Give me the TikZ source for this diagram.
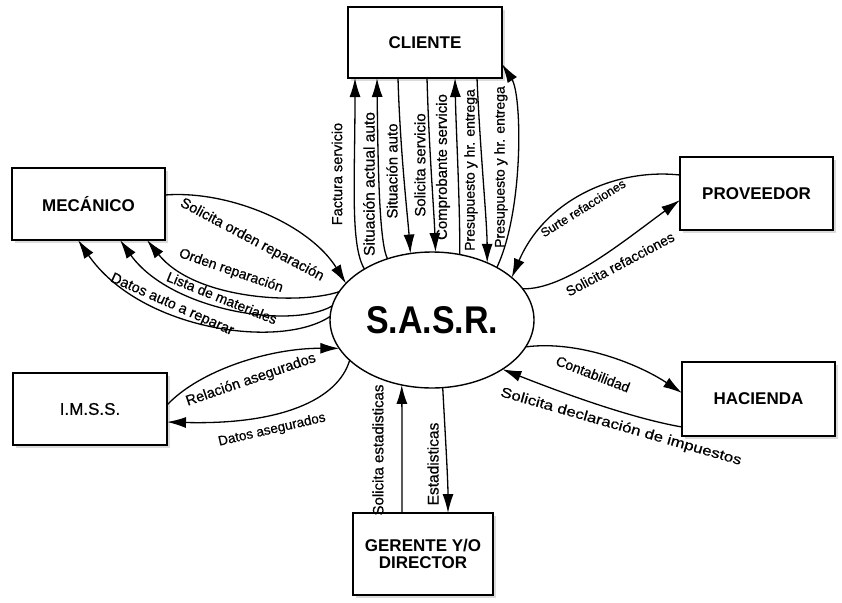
\documentclass[tikz,border=0pt]{standalone}
\usepackage{fontspec}
\setmainfont{Liberation Sans}
\newfontfamily\labfont[FakeBold=0.6]{Liberation Sans}
\usepackage{graphicx}
\usetikzlibrary{arrows.meta,shapes.geometric,shadows}
\newcommand\lb[2]{\resizebox{#1pt}{\height}{#2}}
\newcommand\fs[1]{\fontsize{#1}{#1}\selectfont}
\begin{document}
\begin{tikzpicture}[x=1pt,y=-1pt,
  box/.style={draw,line width=1.2pt,fill=white,inner sep=0pt,outer sep=0pt,
    font=\fs{17}\bfseries,align=center,
    drop shadow={shadow xshift=3pt,shadow yshift=-3pt,fill=gray!28,opacity=1}},
  flow/.style={line width=1.3pt,-{Latex[length=19pt,width=11pt]}},
  lab/.style={inner sep=0pt,font=\labfont\fs{14.5}}]
\useasboundingbox (0,0) rectangle (842,602);
\fill[white] (0,0) rectangle (842,602);

% entities
\node[box,minimum width=154pt,minimum height=71pt] (cli) at (425,42.5) {CLIENTE};
\node[box,minimum width=153pt,minimum height=72pt] (mec) at (88.5,204) {MEC\'ANICO};
\node[box,minimum width=153pt,minimum height=73pt] (prov) at (756.5,193.5) {PROVEEDOR};
\node[box,minimum width=154pt,minimum height=72pt,font=\labfont\fs{17}] (imss) at (90,409) {I.M.S.S.};
\node[box,minimum width=153pt,minimum height=74pt] (hac) at (758.5,399) {HACIENDA};
\node[box,minimum width=140pt,minimum height=82pt] (ger) at (423,554) {GERENTE Y/O\\DIRECTOR};

% process
\node[draw,ellipse,line width=1.4pt,minimum width=204pt,minimum height=136pt,inner sep=0pt,outer sep=0pt]
  (sasr) at (432,320) {\fs{36}\bfseries\resizebox{132pt}{27pt}{S.A.S.R.}};

% CLIENTE flows
\draw[flow] (sasr.143) .. controls (350,245) and (355,180) .. (355,0 |- cli.south);
\draw[flow] (sasr.126) .. controls (380,245) and (378,180) .. (377,0 |- cli.south);
\draw[flow] (398,0 |- cli.south) .. controls (400,150) and (408,220) .. (sasr.108);
\draw[flow] (427,0 |- cli.south) .. controls (429,150) and (434,210) .. (sasr.87);
\draw[flow] (sasr.67) .. controls (460,200) and (456,130) .. (455,0 |- cli.south);
\draw[flow] (477,0 |- cli.south) .. controls (480,150) and (487,220) .. (sasr.46);
\draw[flow] (sasr.39) .. controls (524,210) and (522,95) .. (cli.east |- 0,64);

\node[lab,rotate=90,font=\labfont\fs{14.5}] (l1) at (337,174) {Factura servicio};
\node[lab,rotate=90,font=\labfont\fs{15.5}] (l2) at (369,184) {Situaci\'on actual auto};
\node[lab,rotate=90,font=\labfont\fs{15}] (l3) at (392,171) {Situaci\'on auto};
\node[lab,rotate=90,font=\labfont\fs{15}] (l4) at (420,165) {Solicita servicio};
\node[lab,rotate=90,font=\labfont\fs{15}] (l5) at (443,167) {Comprobante servicio};
\node[lab,rotate=90,font=\labfont\fs{14}] (l6) at (471,170) {Presupuesto y hr. entrega};
\node[lab,rotate=90,font=\labfont\fs{14}] (l7) at (501,167) {Presupuesto y hr. entrega};

% MECANICO flows
\draw[flow] (mec.east |- 0,195) .. controls (230,190) and (310,225) .. (sasr.157);
\draw[flow] (sasr.163) .. controls (300,305) and (195,300) .. (147,0 |- mec.south);
\draw[flow] (sasr.172) .. controls (290,330) and (170,310) .. (120,0 |- mec.south);
\draw[flow] (sasr.178) .. controls (280,350) and (140,330) .. (78,0 |- mec.south);

\node[lab,rotate=-28] (m1) at (252,240) {Solicita orden reparaci\'on};
\node[lab,rotate=-19,font=\labfont\fs{14}] (m2) at (231,271) {Orden reparaci\'on};
\node[lab,rotate=-22,font=\labfont\fs{14}] (m3) at (222,298) {Lista de materiales};
\node[lab,rotate=-24] (m4) at (172,305) {Datos auto a reparar};

% IMSS flows
\draw[flow] (imss.east |- 0,405) .. controls (200,370) and (270,348) .. (sasr.197);
\draw[flow] (sasr.206) .. controls (338,400) and (280,425) .. (imss.east |- 0,422);
\node[lab,rotate=19] (i1) at (251,380) {Relaci\'on asegurados};
\node[lab,rotate=13,font=\labfont\fs{13.5}] (i2) at (272,430) {Datos asegurados};

% PROVEEDOR flows
\draw[flow] (prov.west |- 0,175) .. controls (615,168) and (545,200) .. (sasr.28);
\draw[flow] (sasr.19) .. controls (565,290) and (625,240) .. (prov.west |- 0,200);
\node[lab,rotate=32,font=\labfont\fs{12.5}] (p1) at (583,208) {Surte refacciones};
\node[lab,rotate=28,font=\labfont\fs{14}] (p2) at (620,264) {Solicita refacciones};

% HACIENDA flows
\draw[flow] (sasr.344) .. controls (580,340) and (640,365) .. (hac.west |- 0,393);
\draw[flow] (hac.west |- 0,427) .. controls (630,418) and (560,392) .. (sasr.325);
\node[lab,rotate=-21,font=\labfont\fs{14}] (h1) at (593,374) {Contabilidad};
\node[lab,rotate=-16,font=\labfont\fs{14}] (h2) at (621,427) {\lb{250}{Solicita declaraci\'on de impuestos}};

% GERENTE flows
\draw[flow] (402,0 |- ger.north) .. controls (402,470) and (402,420) .. (sasr.245);
\draw[flow] (sasr.279) .. controls (445,430) and (448,480) .. (448,0 |- ger.north);
\node[lab,rotate=90,font=\labfont\fs{15}] (g1) at (378,450) {Solicita estadisticas};
\node[lab,rotate=90,font=\labfont\fs{15.5}] (g2) at (433,464) {Estadisticas};
\end{tikzpicture}
\end{document}
